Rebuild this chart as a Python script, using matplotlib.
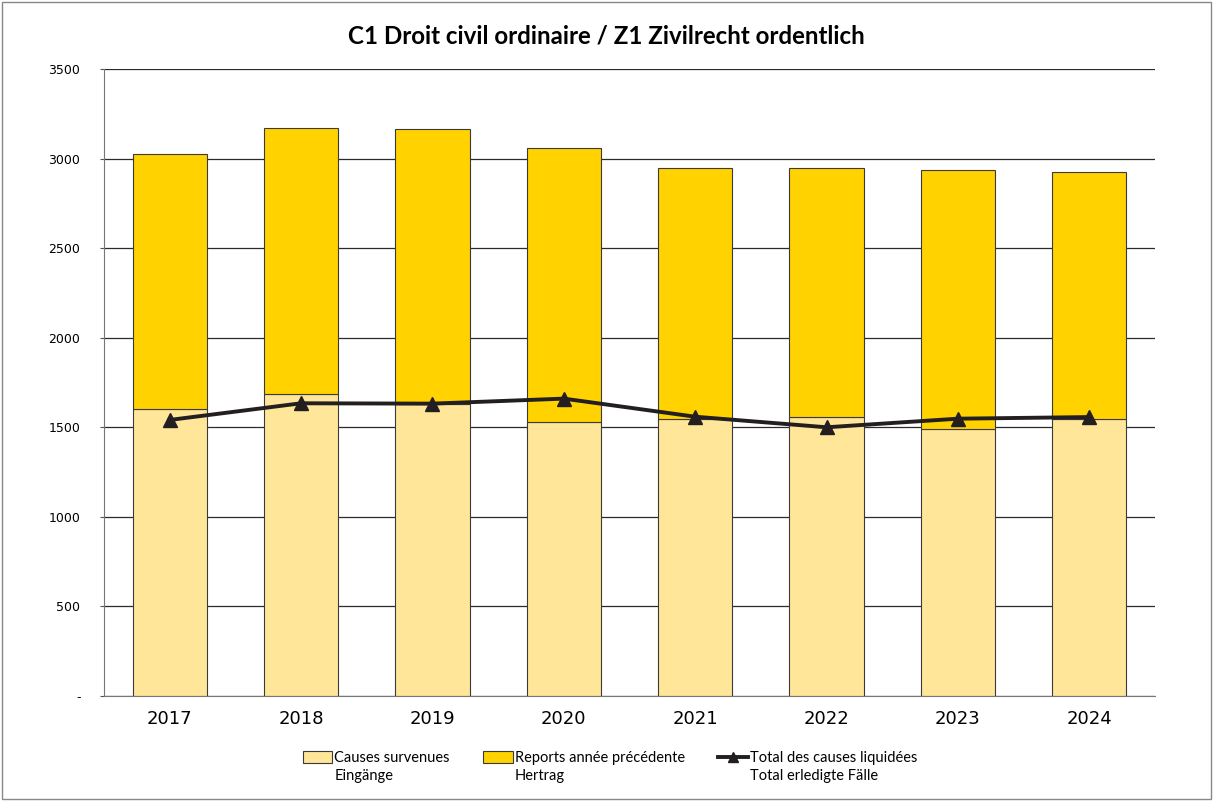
import numpy as np
import matplotlib
matplotlib.use("Agg")
import matplotlib.pyplot as plt
from matplotlib.patches import Rectangle

# Data
years = ["2017", "2018", "2019", "2020", "2021", "2022", "2023", "2024"]
causes_survenues = [1600, 1686, 1628, 1530, 1548, 1559, 1489, 1545]
totals_top = [3028, 3171, 3165, 3061, 2948, 2948, 2935, 2925]
reports = [t - c for t, c in zip(totals_top, causes_survenues)]
liquidees = [1541, 1634, 1632, 1660, 1559, 1500, 1548, 1557]

labels_fr = ["Causes survenues", "Reports année précédente", "Total des causes liquidées"]
labels_de = ["Eingänge", "Hertrag", "Total erledigte Fälle"]

light_yellow = "#FFE699"
dark_yellow = "#FFD200"
line_col = "#231F20"

plt.rcParams['font.family'] = ['Lato', 'DejaVu Sans']

W, H = 1213, 801
fig = plt.figure(figsize=(W / 100, H / 100), dpi=100)
ax = fig.add_axes([104 / W, 1 - 696 / H, (1155 - 104) / W, (696 - 69) / H])

x = np.arange(len(years))
w = 0.565
b1 = ax.bar(x, causes_survenues, w, color=light_yellow, edgecolor="#3a3a3a", linewidth=0.8, zorder=2)
b2 = ax.bar(x, reports, w, bottom=causes_survenues, color=dark_yellow, edgecolor="#3a3a3a",
            linewidth=0.8, zorder=2)
ln, = ax.plot(x, liquidees, color=line_col, lw=2.8, marker="^", markersize=10, zorder=3)

ax.set_xlim(-0.5, len(years) - 0.5)
ax.set_ylim(0, 3500)
ax.set_yticks(np.arange(0, 3501, 500))
ax.set_yticklabels(["-"] + [str(v) for v in range(500, 3501, 500)], fontsize=9,
                   family=['DejaVu Sans'])
ax.set_xticks(x)
ax.set_xticklabels(years, fontsize=13, family=['DejaVu Sans'])
ax.tick_params(axis="y", length=3, width=0.8, color="#555555", pad=14)
ax.tick_params(axis="x", length=0, pad=10)
ax.grid(axis="y", color="#2a2a2a", linewidth=0.9, zorder=0)
ax.set_axisbelow(True)
for s in ["top", "right"]:
    ax.spines[s].set_visible(False)
ax.spines["left"].set_color("#777777")
ax.spines["bottom"].set_color("#777777")

fig.text(0.5, 1 - 36 / H, "C1 Droit civil ordinaire / Z1 Zivilrecht ordentlich",
         ha="center", va="center", fontsize=17.4, fontweight="bold")

leg = fig.legend([b1, b2, ln], labels_fr, loc="center", bbox_to_anchor=(0.503, 1 - 758 / H),
                 ncol=3, frameon=False, fontsize=10.5, handlelength=2.0, handleheight=0.8,
                 handletextpad=0.15, columnspacing=2.3, markerscale=0.7)

# second line of each legend entry, aligned under the first
fig.canvas.draw()
for t, sub in zip(leg.get_texts(), labels_de):
    bb = t.get_window_extent()
    fig.text(bb.x0 / W, (bb.y0 - 18) / H, sub, fontsize=10.5, ha="left", va="bottom")

fig.patches.append(Rectangle((0.0015, 0.002), 0.997, 0.996, transform=fig.transFigure,
                             fill=False, edgecolor="#888888", linewidth=1))

plt.savefig("out.png", dpi=100)
